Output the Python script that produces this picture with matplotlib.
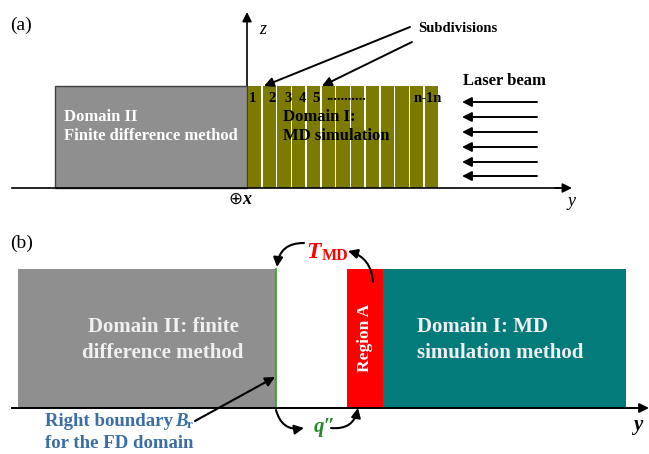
import matplotlib.pyplot as plt
from matplotlib.patches import Rectangle, FancyArrowPatch

plt.rcParams['font.family'] = ['Liberation Serif', 'DejaVu Serif']

# panel (a): domain extents in pixel units (x0, x1, top, bottom)
fd_a = [55, 247, 86, 188]
md_a = [247, 439, 86, 188]
n_cells = 13
cell_labels = ["1", "2", "3", "4", "5"]
cell_label_x = [252, 272, 288, 302, 316]
laser_y = [102, 117, 132, 147, 162, 176]

# panel (b)
fd_b = [18, 276, 269, 408]
region_a = [347, 383, 269, 408]
md_b = [383, 626, 269, 408]

fig = plt.figure(figsize=(6.49, 4.54), dpi=100)
ax = fig.add_axes([0, 0, 1, 1])
ax.set_xlim(0, 649)
ax.set_ylim(454, 0)
ax.axis('off')

def arrow(p0, p1, rad=0.0, color='black', lw=1.6, ms=14):
    ax.add_patch(FancyArrowPatch(p0, p1, connectionstyle=f"arc3,rad={rad}",
                                 arrowstyle='-|>', mutation_scale=ms,
                                 color=color, lw=lw, shrinkA=0, shrinkB=0))

# ---------------- (a) ----------------
ax.text(10, 25, "(a)", fontsize=14, va='center')
ax.plot([12, 560], [188, 188], color='black', lw=1.2)
arrow((555, 188), (572, 188), lw=1.2)
ax.text(568, 202, "y", fontsize=13, style='italic', va='center')
arrow((247, 188), (247, 12), lw=1.2)
ax.text(259, 30, "z", fontsize=13, style='italic', va='center')
ax.text(228, 199, "\u2295", fontsize=12, va='center', family='DejaVu Sans')
ax.text(242, 200, "x", fontsize=13, style='italic', weight='bold', va='center')

ax.add_patch(Rectangle((fd_a[0], fd_a[2]), fd_a[1] - fd_a[0], fd_a[3] - fd_a[2],
                       facecolor='#8f8f8f', edgecolor='#404040', lw=1.0))
w = (md_a[1] - md_a[0]) / n_cells
for i in range(n_cells):
    ax.add_patch(Rectangle((md_a[0] + i * w + 0.8, md_a[2]), w - 1.6, md_a[3] - md_a[2],
                           facecolor='#7d7a00', edgecolor='none'))
for lab, x in zip(cell_labels, cell_label_x):
    ax.text(x, 98, lab, fontsize=10.5, weight='bold', ha='center', va='center')
ax.text(326, 97, "...........", fontsize=10.5, weight='bold', va='center')
ax.text(414, 98, "n-1n", fontsize=10.5, weight='bold', va='center')

ax.text(64, 117, "Domain II", fontsize=12, weight='bold', color='white', va='center')
ax.text(64, 136, "Finite difference method", fontsize=12, weight='bold', color='white', va='center')
ax.text(283, 117, "Domain I:", fontsize=12, weight='bold', va='center')
ax.text(283, 136, "MD simulation", fontsize=12, weight='bold', va='center')

ax.text(418, 28, "Subdivisions", fontsize=10.5, weight='bold', va='center')
arrow((410, 27), (264, 86), lw=1.4)
arrow((412, 42), (322, 86), lw=1.4)

ax.text(463, 81, "Laser beam", fontsize=12, weight='bold', va='center')
for y in laser_y:
    arrow((537, y), (462, y), lw=1.4)

# ---------------- (b) ----------------
ax.text(10, 243, "(b)", fontsize=14, va='center')
ax.add_patch(Rectangle((fd_b[0], fd_b[2]), fd_b[1] - fd_b[0], fd_b[3] - fd_b[2],
                       facecolor='#8f8f8f', edgecolor='none'))
ax.plot([fd_b[1], fd_b[1]], [fd_b[2], fd_b[3]], color='#2ca02c', lw=1.2)
ax.add_patch(Rectangle((region_a[0], region_a[2]), region_a[1] - region_a[0],
                       region_a[3] - region_a[2], facecolor='#ff0000', edgecolor='none'))
ax.add_patch(Rectangle((md_b[0], md_b[2]), md_b[1] - md_b[0], md_b[3] - md_b[2],
                       facecolor='#037b7b', edgecolor='none'))
ax.plot([12, 640], [408, 408], color='black', lw=1.4)
arrow((630, 408), (649, 408), lw=1.4)
ax.text(633, 425, "y", fontsize=15, style='italic', weight='bold', va='center')

ax.text(163, 327, "Domain II: finite", fontsize=15, weight='bold', color='#f0f0f0',
        ha='center', va='center')
ax.text(163, 353, "difference method", fontsize=15, weight='bold', color='#f0f0f0',
        ha='center', va='center')
ax.text(365, 338, "Region A", fontsize=12.5, weight='bold', color='white',
        rotation=90, ha='center', va='center')
ax.text(417, 327, "Domain I: MD", fontsize=15, weight='bold', color='#f0f0f0', va='center')
ax.text(417, 353, "simulation method", fontsize=15, weight='bold', color='#f0f0f0', va='center')

ax.text(321, 252, "T", fontsize=17, color='red', weight='bold', style='italic',
        ha='right', va='center')
ax.text(322, 256, "MD", fontsize=11.5, weight='bold', color='red', va='center')
arrow((304, 243), (277, 267), rad=0.45, lw=1.5)
arrow((373, 282), (348, 251), rad=0.35, lw=1.5)

ax.text(314, 427, "q\u2033", fontsize=15, weight='bold', style='italic', color='#2a8a2a',
        va='center')
arrow((276, 410), (304, 428), rad=0.45, lw=1.5)
arrow((331, 428), (358, 408), rad=0.45, lw=1.5)

ax.text(45, 421, "Right boundary", fontsize=13.5, weight='bold', color='#3a6ea5', va='center')
ax.text(175, 421, "B", fontsize=13.5, weight='bold', style='italic', color='#3a6ea5', va='center')
ax.text(187, 425, "r", fontsize=9.5, weight='bold', color='#3a6ea5', va='center')
ax.text(45, 443, "for the FD domain", fontsize=13.5, weight='bold', color='#3a6ea5', va='center')
arrow((195, 421), (275, 377), lw=1.5)

fig.savefig("out.png", dpi=100)
